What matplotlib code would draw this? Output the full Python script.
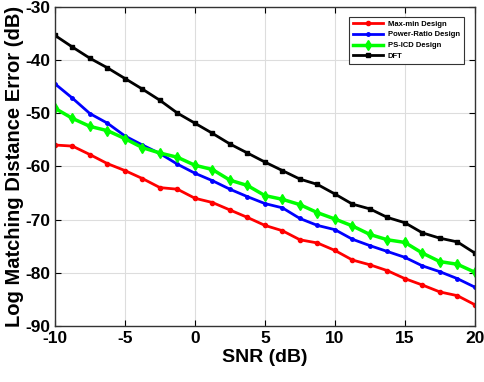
import matplotlib
matplotlib.use('Agg')
import matplotlib.pyplot as plt
import numpy as np

plt.rcParams['font.family'] = ['Liberation Sans', 'DejaVu Sans']
plt.rcParams['font.weight'] = 'bold'
plt.rcParams['axes.unicode_minus'] = False

snr = np.arange(25) * 1.25 - 10

maxmin = [-56.0, -56.2, -57.8, -59.5, -60.8, -62.3, -64.0, -64.3, -66.0, -66.8,
          -68.2, -69.6, -71.1, -72.1, -73.8, -74.4, -75.8, -77.6, -78.5, -79.6,
          -81.1, -82.3, -83.6, -84.3, -86.0]
power_ratio = [-44.5, -47.2, -50.1, -51.9, -54.3, -56.0, -57.6, -59.6, -61.3, -62.7,
               -64.3, -65.7, -67.0, -67.8, -69.8, -71.1, -71.9, -73.7, -74.9, -76.0,
               -77.1, -78.7, -79.8, -81.1, -82.7]
psicd = [-49.1, -51.0, -52.5, -53.3, -54.8, -56.5, -57.5, -58.3, -59.8, -60.6,
         -62.6, -63.6, -65.5, -66.2, -67.2, -68.7, -69.9, -71.2, -72.8, -73.8,
         -74.3, -76.3, -77.9, -78.4, -79.9]
dft = [-35.4, -37.6, -39.7, -41.5, -43.5, -45.5, -47.6, -50.0, -51.9, -53.8,
       -55.8, -57.5, -59.2, -60.8, -62.4, -63.4, -65.2, -67.1, -68.0, -69.6,
       -70.6, -72.5, -73.5, -74.2, -76.3]

fig = plt.figure(figsize=(4.84, 3.82), dpi=100)
ax = fig.add_axes([0.1136, 0.1466, 0.8675, 0.836])

ax.plot(snr, maxmin, color='#ff0000', lw=2, marker='o', ms=3, label='Max-min Design')
ax.plot(snr, power_ratio, color='#0000ff', lw=2, marker='.', ms=5, label='Power-Ratio Design')
ax.plot(snr, psicd, color='#00ff00', lw=2.5, marker='d', ms=5, label='PS-ICD Design')
ax.plot(snr, dft, color='black', lw=2, marker='s', ms=3, label='DFT')

ax.set_xlim(-10, 20)
ax.set_ylim(-90, -30)
ax.set_xticks([-10, -5, 0, 5, 10, 15, 20])
ax.set_yticks([-90, -80, -70, -60, -50, -40, -30])
ax.grid(True, color='#dddddd', lw=0.8)
ax.tick_params(direction='in', top=True, right=True, labelsize=12.5, length=4, width=0.8)
for s in ax.spines.values():
    s.set_color('#333333')
    s.set_linewidth(1)

ax.set_xlabel('SNR (dB)', fontsize=14, fontweight='bold', labelpad=2)
ax.set_ylabel('Log Matching Distance Error (dB)', fontsize=14.5, fontweight='bold', labelpad=1)

leg = ax.legend(loc='upper right', bbox_to_anchor=(0.974, 0.969), borderaxespad=0,
                prop={'weight': 'bold', 'size': 5.5}, fancybox=False,
                edgecolor='#333333', framealpha=1, handlelength=4, handletextpad=0.6,
                borderpad=0.5, labelspacing=0.45)
leg.get_frame().set_linewidth(0.8)

fig.savefig('out.png', dpi=100)
